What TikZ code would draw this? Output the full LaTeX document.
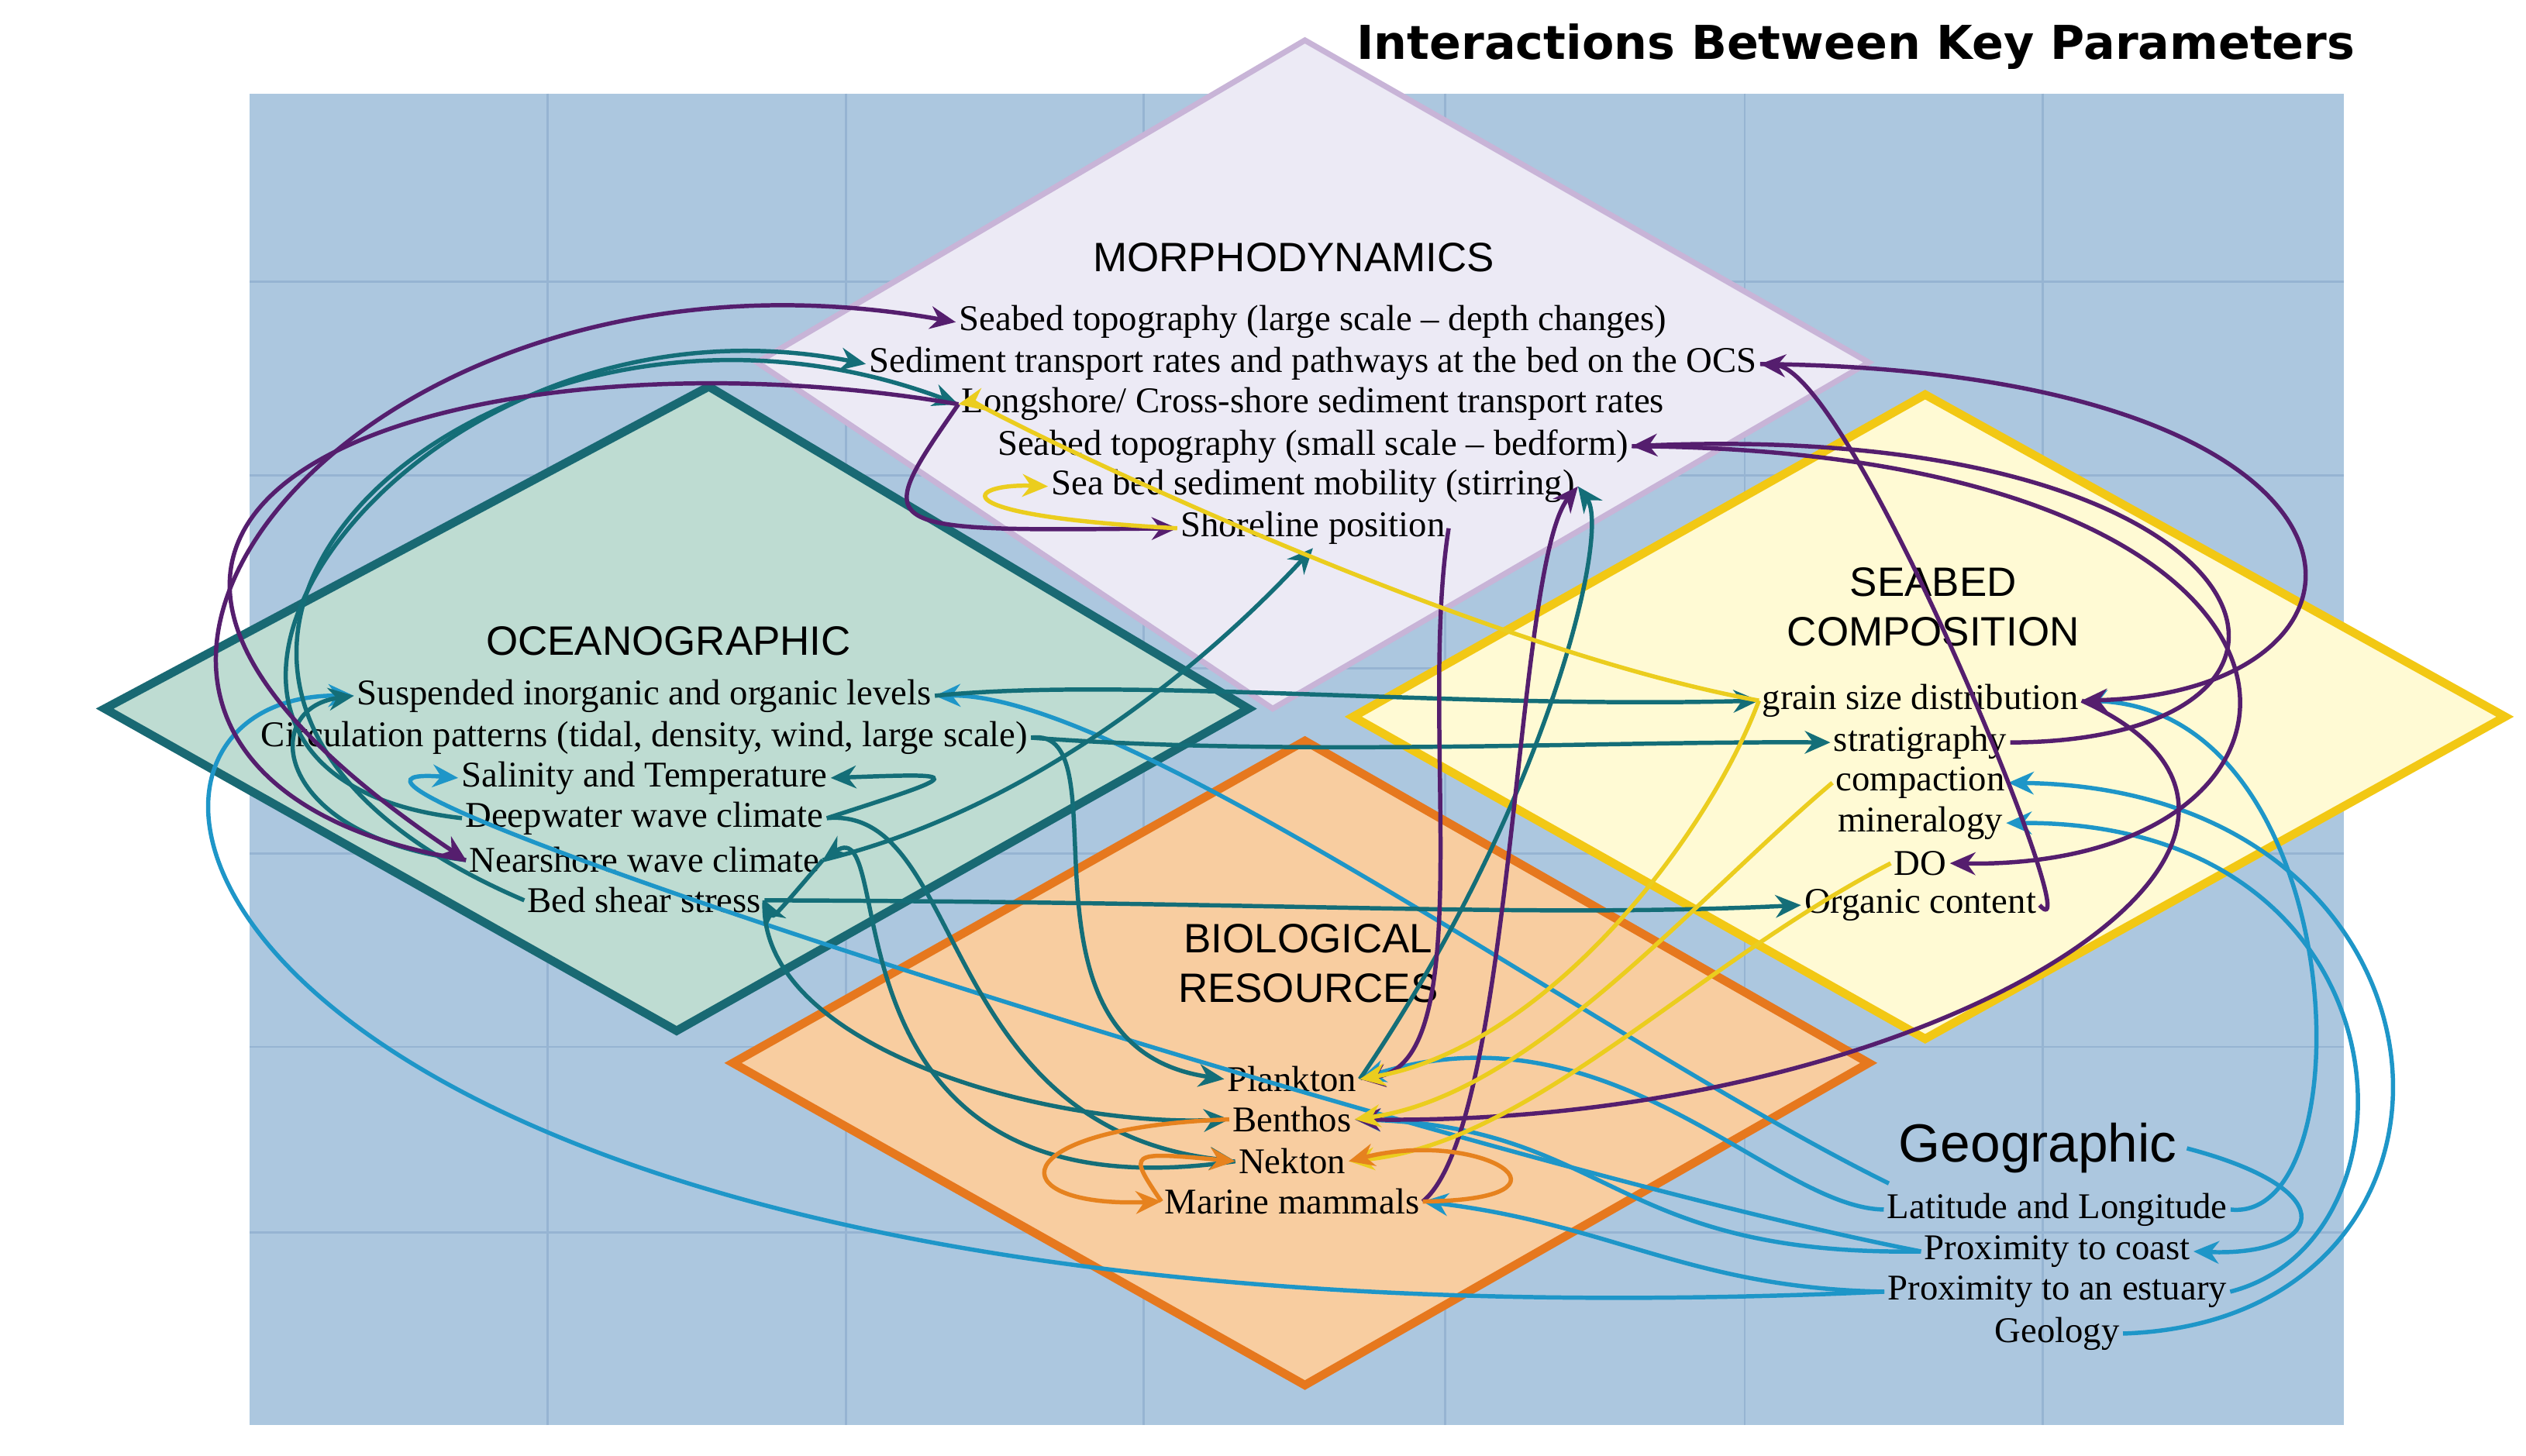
\documentclass[tikz,border=0pt]{standalone}
\usepackage{fontspec}
\setmainfont{Liberation Serif}
\newfontfamily\titlefont{Liberation Sans}
\newfontfamily\boldfont{DejaVu Sans}
\usetikzlibrary{arrows.meta}
\definecolor{bgblue}{RGB}{172,199,223}
\definecolor{gridblue}{RGB}{150,180,210}
\definecolor{morphfill}{RGB}{236,234,245}
\definecolor{morphline}{RGB}{200,180,215}
\definecolor{oceanfill}{RGB}{190,220,210}
\definecolor{oceanline}{RGB}{25,105,115}
\definecolor{bedfill}{RGB}{255,250,212}
\definecolor{bedline}{RGB}{242,200,20}
\definecolor{biofill}{RGB}{248,205,160}
\definecolor{bioline}{RGB}{230,120,30}
\definecolor{purp}{RGB}{85,30,110}
\definecolor{tealc}{RGB}{20,110,120}
\definecolor{lblue}{RGB}{30,150,200}
\definecolor{goldc}{RGB}{235,205,30}
\definecolor{orng}{RGB}{230,130,30}

\begin{document}
\begin{tikzpicture}[x=0.02cm, y=-0.02cm,
  item/.style={font=\fontsize{12.8}{14}\selectfont, inner sep=1pt},
  head/.style={font=\titlefont\fontsize{14.5}{17.5}\selectfont, align=center},
  arr/.style={line width=1.5pt, -{Stealth[length=9pt,width=8pt]}},
  pu/.style={arr, draw=purp},
  te/.style={arr, draw=tealc},
  lb/.style={arr, draw=lblue},
  go/.style={arr, draw=goldc},
  og/.style={arr, draw=orng}]

\useasboundingbox (0,0) rectangle (1568,904);
\fill[white] (0,0) rectangle (1568,904);

% background grid
\fill[bgblue] (155,58) rectangle (1455,885);
\foreach \x in {340,525,710,897,1083,1268}
  \draw[gridblue, line width=0.8pt] (\x,58) -- (\x,885);
\foreach \y in {175,295,415,530,650,765}
  \draw[gridblue, line width=0.8pt] (155,\y) -- (1455,\y);

% title
\node[font=\boldfont\bfseries\fontsize{16.5}{19}\selectfont] (title) at (1152,29) {Interactions Between Key Parameters};

% diamonds
\draw[fill=morphfill, draw=morphline, line width=2pt] (810,25) -- (1160,225) -- (790,440) -- (470,225) -- cycle;
\draw[fill=bedfill, draw=bedline, line width=3pt] (1195,245) -- (1555,445) -- (1195,645) -- (840,445) -- cycle;
\draw[fill=oceanfill, draw=oceanline, line width=3pt] (440,240) -- (775,440) -- (420,640) -- (65,440) -- cycle;
\draw[fill=biofill, draw=bioline, line width=3pt] (810,460) -- (1160,660) -- (810,860) -- (455,660) -- cycle;

% morphodynamics
\node[head] (mh) at (803,160) {MORPHODYNAMICS};
\node[item] (m1) at (815,200) {Seabed topography (large scale -- depth changes)};
\node[item] (m2) at (815,226) {Sediment transport rates and pathways at the bed on the OCS};
\node[item] (m3) at (815,251) {Longshore/ Cross-shore sediment transport rates};
\node[item] (m4) at (815,277) {Seabed topography (small scale -- bedform)};
\node[item] (m5) at (815,302) {Sea bed sediment mobility (stirring)};
\node[item] (m6) at (815,328) {Shoreline position};

% oceanographic
\node[head] (oh) at (415,398) {OCEANOGRAPHIC};
\node[item] (o1) at (400,432) {Suspended inorganic and organic levels};
\node[item] (o2) at (400,458) {Circulation patterns (tidal, density, wind, large scale)};
\node[item] (o3) at (400,483) {Salinity and Temperature};
\node[item] (o4) at (400,508) {Deepwater wave climate};
\node[item] (o5) at (400,534) {Nearshore wave climate};
\node[item] (o6) at (400,559) {Bed shear stress};

% seabed composition
\node[head] (sh) at (1200,377) {SEABED\\COMPOSITION};
\node[item] (s1) at (1192,435) {grain size distribution};
\node[item] (s2) at (1192,461) {stratigraphy};
\node[item] (s3) at (1192,486) {compaction};
\node[item] (s4) at (1192,511) {mineralogy};
\node[item] (s5) at (1192,536) {DO};
\node[item] (s6) at (1192,562) {Organic content};

% biological resources
\node[head] (bh) at (812,598) {BIOLOGICAL\\RESOURCES};
\node[item] (b1) at (802,670) {Plankton};
\node[item] (b2) at (802,695) {Benthos};
\node[item] (b3) at (802,721) {Nekton};
\node[item] (b4) at (802,746) {Marine mammals};

% geographic
\node[font=\titlefont\fontsize{19}{22}\selectfont] (gh) at (1265,713) {Geographic};
\node[item] (g1) at (1277,751) {Latitude and Longitude};
\node[item] (g2) at (1277,777) {Proximity to coast};
\node[item] (g3) at (1277,802) {Proximity to an estuary};
\node[item] (g4) at (1277,828) {Geology};

% light blue links
\draw[lb] (g3.west) .. controls (100,850) and (20,430) .. (o1.west);
\draw[lb] (g2.west) .. controls (900,720) and (120,470) .. (o3.west);
\draw[lb] (g1.west) .. controls (1100,750) and (1000,620) .. (b1.east);
\draw[lb] (g2.west) .. controls (1000,780) and (1000,700) .. (b2.east);
\draw[lb] (g3.west) .. controls (1050,800) and (1000,760) .. (b4.east);
\draw[lb] (gh.south west) .. controls (1000,650) and (700,430) .. (o1.east);
\draw[lb] (g4.east) .. controls (1560,820) and (1540,490) .. (s3.east);
\draw[lb] (g3.east) .. controls (1510,770) and (1500,510) .. (s4.east);
\draw[lb] (g1.east) .. controls (1470,760) and (1460,440) .. (s1.east);
\draw[lb] (gh.east) .. controls (1460,740) and (1440,780) .. (g2.east);

% teal links
\draw[te] (o4.west) .. controls (40,480) and (250,170) .. (m2.west);
\draw[te] (o6.west) .. controls (0,420) and (300,140) .. (m3.west);
\draw[te] (o5.west) .. controls (170,520) and (160,440) .. (o1.west);
\draw[te] (o1.east) .. controls (700,420) and (900,440) .. (s1.west);
\draw[te] (o2.east) .. controls (800,470) and (1000,460) .. (s2.west);
\draw[te] (o6.east) .. controls (800,560) and (950,570) .. (s6.west);
\draw[te] (o5.east) .. controls (650,500) and (760,400) .. (m6.south);
\draw[te] (o2.east) .. controls (700,450) and (620,650) .. (b1.west);
\draw[te] (o4.east) .. controls (600,500) and (580,700) .. (b3.west);
\draw[te] (o6.east) .. controls (470,650) and (650,700) .. (b2.west);
\draw[te] (o4.east) .. controls (600,480) .. (o3.east);
\draw[te] (o5.east) .. controls (480,570) .. (o6.east);
\draw[te] (b3.west) .. controls (500,760) and (560,500) .. (o5.east);
\draw[te] (b1.east) .. controls (960,500) and (1000,330) .. (m5.east);

% purple links
\draw[pu] (o5.west) .. controls (-40,480) and (200,130) .. (m1.west);
\draw[pu] (m3.west) .. controls (300,200) and (-60,300) .. (o5.west);
\draw[pu] (m3.west) .. controls (540,330) .. (m6.west);
\draw[pu] (m2.east) .. controls (1500,230) and (1500,430) .. (s1.east);
\draw[pu] (s2.east) .. controls (1480,460) and (1420,260) .. (m4.east);
\draw[pu] (m4.east) .. controls (1480,280) and (1470,540) .. (s5.east);
\draw[pu] (m6.east) .. controls (880,450) and (920,660) .. (b1.east);
\draw[pu] (b4.east) .. controls (940,700) and (940,350) .. (m5.east);
\draw[pu] (s1.east) .. controls (1480,520) and (1200,700) .. (b2.east);
\draw[pu] (s6.east) .. controls (1300,600) and (1150,230) .. (m2.east);

% gold links
\draw[go] (s1.west) .. controls (900,400) and (600,250) .. (m3.west);
\draw[go] (m6.west) .. controls (580,320) and (600,300) .. (m5.west);
\draw[go] (s1.west) .. controls (1060,520) and (960,650) .. (b1.east);
\draw[go] (s3.west) .. controls (1050,560) and (950,680) .. (b2.east);
\draw[go] (s5.west) .. controls (1050,600) and (950,710) .. (b3.east);

% orange links
\draw[og] (b2.west) .. controls (620,700) and (620,750) .. (b4.west);
\draw[og] (b4.east) .. controls (990,745) and (920,700) .. (b3.east);
\draw[og] (b4.west) .. controls (700,715) .. (b3.west);

\end{tikzpicture}
\end{document}
